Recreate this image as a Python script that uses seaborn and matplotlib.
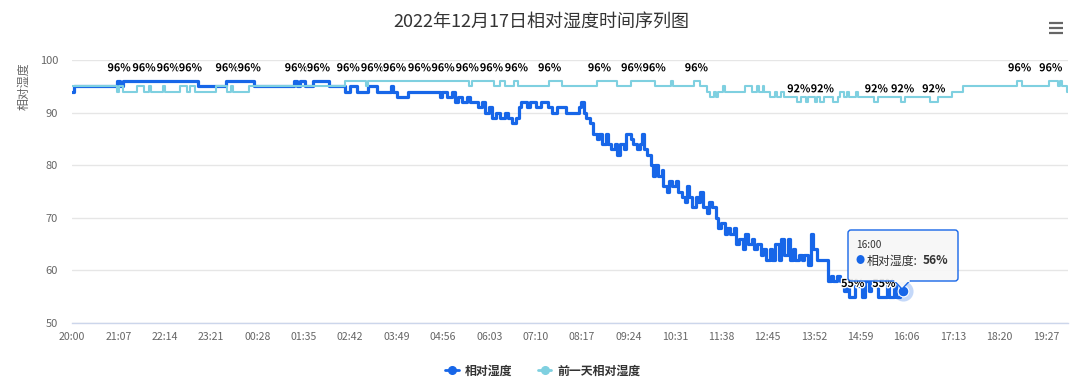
import numpy as np
import pandas as pd
import matplotlib
matplotlib.use("Agg")
import matplotlib.pyplot as plt
import seaborn as sns
from matplotlib.lines import Line2D
from matplotlib.patches import FancyBboxPatch, Polygon
from matplotlib.transforms import IdentityTransform
import matplotlib.patheffects as pe

# ---------------- data (minutes after 20:00, humidity %) ----------------
# change points of the step-like series
today_t = [0, 3, 65, 69, 74, 182, 223, 263, 321, 325, 330, 337, 348, 372, 395, 402, 412, 428, 441, 461,
           464, 470, 486, 532, 535, 542, 549, 554, 558, 564, 570, 575, 587, 593, 597, 603, 607, 613, 619, 625,
           630, 636, 642, 646, 649, 658, 662, 671, 678, 687, 694, 700, 713, 732, 736, 740, 743, 749, 753, 758,
           762, 766, 771, 775, 779, 784, 788, 792, 797, 801, 808, 811, 817, 821, 824, 827, 831, 836, 839, 843,
           847, 852, 854, 859, 862, 867, 872, 876, 881, 885, 889, 892, 896, 901, 905, 908, 912, 917, 921, 925,
           930, 934, 938, 943, 947, 951, 956, 960, 964, 969, 973, 977, 982, 986, 990, 995, 999, 1003, 1008, 1012,
           1016, 1021, 1025, 1029, 1034, 1037, 1041, 1045, 1050, 1054, 1058, 1063, 1067, 1071, 1076, 1092, 1096,
           1100, 1105, 1110, 1115, 1119, 1123, 1131, 1136, 1141, 1145, 1151, 1155, 1160, 1165, 1177, 1181, 1187,
           1191, 1196, 1200]
today_v = [94, 95, 96, 95, 96, 95, 96, 95, 96, 95, 96, 95, 96, 95, 94, 95, 94, 95, 94, 95,
           94, 93, 94, 93, 94, 93, 94, 92, 93, 92, 93, 92, 91, 92, 90, 91, 89, 90, 89, 90,
           89, 88, 89, 91, 92, 91, 92, 91, 92, 91, 90, 91, 90, 91, 92, 90, 89, 88, 86, 85,
           86, 84, 86, 84, 83, 84, 82, 84, 83, 86, 85, 84, 83, 84, 86, 83, 82, 80, 78, 80,
           78, 79, 76, 75, 77, 76, 77, 75, 74, 73, 76, 74, 72, 74, 73, 75, 72, 71, 73, 72,
           70, 68, 69, 67, 68, 67, 68, 65, 66, 64, 67, 65, 66, 64, 65, 63, 64, 62, 64, 62,
           65, 62, 66, 63, 66, 62, 64, 62, 63, 62, 63, 61, 67, 64, 62, 58, 59,
           58, 59, 58, 56, 58, 55, 58, 57, 55, 58, 56, 58, 57, 55, 57, 55, 57,
           55, 56, 56]

prev_t = [0, 65, 68, 74, 94, 104, 111, 114, 132, 134, 156, 166, 171, 178, 208, 224, 230, 233, 256, 395,
          425, 428, 574, 578, 610, 619, 626, 638, 645, 689, 708, 759, 788, 807, 843, 865, 869, 898, 908, 918,
          922, 927, 930, 934, 941, 944, 973, 983, 990, 993, 998, 1000, 1009, 1015, 1019, 1024, 1028, 1048, 1053, 1060,
          1064, 1074, 1077, 1081, 1086, 1100, 1107, 1110, 1115, 1119, 1122, 1132, 1136, 1158, 1164, 1197, 1203, 1240, 1251, 1272,
          1287, 1366, 1372, 1411, 1424, 1427, 1431, 1437, 1439]
prev_v = [95, 94, 95, 94, 95, 94, 95, 94, 95, 94, 95, 94, 95, 94, 95, 94, 95, 94, 95, 96,
          95, 96, 95, 96, 95, 96, 95, 96, 95, 96, 95, 96, 95, 96, 95, 96, 95, 96, 95, 94,
          93, 94, 93, 94, 95, 94, 95, 94, 95, 94, 95, 94, 93, 94, 93, 94, 93, 92, 93, 92,
          93, 92, 93, 92, 93, 92, 93, 94, 93, 94, 93, 94, 93, 92, 93, 92, 93, 92, 93, 94,
          95, 96, 95, 96, 95, 96, 95, 94, 94]

# times where the chart shows value labels
today_label_t = [68, 104, 139, 171, 224, 256, 324, 356, 1128, 1173]
prev_label_t = [399, 434, 466, 502, 536, 571, 606, 642, 690, 762, 810, 841, 902,
                1050, 1084, 1162, 1200, 1245, 1369, 1414]

tick_labels = ["20:00", "21:07", "22:14", "23:21", "00:28", "01:35", "02:42", "03:49", "04:56", "06:03",
               "07:10", "08:17", "09:24", "10:31", "11:38", "12:45", "13:52", "14:59", "16:06", "17:13",
               "18:20", "19:27"]
tick_step = 67
n_minutes = 1440

series_names = ["相对湿度", "前一天相对湿度"]
tooltip_time = "16:00"
hover_t = 1200

title = "2022年12月17日相对湿度时间序列图"
ylabel = "相对湿度"

# ---------------- style ----------------
BLUE = "#1766e8"
CYAN = "#7fd0e0"
W, H = 1080, 387

sns.set_theme(style="white")
plt.rcParams["font.family"] = ["Noto Sans CJK SC", "DejaVu Sans"]

fig = plt.figure(figsize=(W / 100, H / 100), dpi=100)
ax = fig.add_axes([72 / W, 1 - 323 / H, 996 / W, 263 / H])

df_today = pd.DataFrame({"t": today_t, "v": today_v})
df_prev = pd.DataFrame({"t": prev_t, "v": prev_v})

sns.lineplot(data=df_today, x="t", y="v", ax=ax, color=BLUE, lw=2.3,
             drawstyle="steps-post", estimator=None, sort=False, zorder=3)
sns.lineplot(data=df_prev, x="t", y="v", ax=ax, color=CYAN, lw=1.5,
             drawstyle="steps-post", estimator=None, sort=False, zorder=4)

ax.set_xlim(0, n_minutes - 1)
ax.set_ylim(50, 100)
ax.set_yticks(range(50, 101, 10))
ax.set_xticks([i * tick_step for i in range(len(tick_labels))])
ax.set_xticklabels(tick_labels)
ax.set_xlabel("")
ax.set_ylabel("")

ax.set_axisbelow(True)
ax.yaxis.grid(True, color="#e6e6e6", lw=1)
ax.xaxis.grid(False)
for s in ["left", "right", "top"]:
    ax.spines[s].set_visible(False)
ax.spines["bottom"].set_color("#ccd6eb")
ax.spines["bottom"].set_linewidth(1)
ax.tick_params(axis="x", direction="out", length=3.6, width=0.8, color="#ccd6eb",
               labelcolor="#666666", labelsize=7.6, pad=3)
ax.tick_params(axis="y", length=0, labelcolor="#666666", labelsize=8, pad=10)


def value_at(ts, vs, t):
    i = np.searchsorted(ts, t, side="right") - 1
    return vs[i]


outline = [pe.withStroke(linewidth=2, foreground="white")]
for ts, vs, lts in [(today_t, today_v, today_label_t), (prev_t, prev_v, prev_label_t)]:
    for lt in lts:
        v = value_at(ts, vs, lt)
        ax.annotate(f"{v}%", (lt, v), xytext=(0, 9.2), textcoords="offset points",
                    ha="center", va="center", fontsize=7.8, fontweight="bold",
                    color="#000000", path_effects=outline, zorder=6)

# hovered point
hv = value_at(today_t, today_v, hover_t)
ax.scatter([hover_t], [hv], s=210, color=BLUE, alpha=0.25, lw=0, zorder=7)
ax.scatter([hover_t], [hv], s=60, color=BLUE, edgecolor="white", lw=0.8, zorder=8)

# title & axis name
fig.text(541 / W, 1 - 22 / H, title, ha="center", va="center", fontsize=13, color="#333333")
fig.text(24 / W, 1 - 86 / H, ylabel, ha="center", va="center", rotation=90,
         fontsize=8.6, color="#666666")

# menu icon
T = IdentityTransform()
for yy in (23, 28, 33):
    fig.add_artist(Line2D([1049, 1063], [H - yy, H - yy], color="#666666", lw=1.6,
                          transform=T, solid_capstyle="butt"))

# tooltip
face = (0.97, 0.97, 0.97, 0.9)
box = FancyBboxPatch((848, H - 281), 110, 51, boxstyle="round,pad=0,rounding_size=3",
                     facecolor=face, edgecolor=BLUE, lw=1, transform=T, zorder=9)
fig.add_artist(box)
tri = Polygon([(894, H - 280.5), (902, H - 289), (910, H - 280.5)], closed=False,
              facecolor=face, edgecolor=BLUE, lw=1, transform=T, zorder=10)
fig.add_artist(tri)
fig.add_artist(Line2D([894.8, 909.2], [H - 281, H - 281], color=(0.97, 0.97, 0.97), lw=1.5,
                      transform=T, zorder=11))
fig.text(856, H - 245, tooltip_time, transform=T, fontsize=7.3, color="#333333",
         va="center", ha="left", zorder=12)
fig.text(856, H - 261, "●", transform=T, fontsize=6.5, color=BLUE, va="center", ha="left", zorder=12)
fig.text(867, H - 261, series_names[0] + ":", transform=T, fontsize=8.6, color="#333333",
         va="center", ha="left", zorder=12)
fig.text(923, H - 261, f"{hv}%", transform=T, fontsize=8.6, color="#333333", fontweight="bold",
         va="center", ha="left", zorder=12)

# legend
handles = [Line2D([], [], color=BLUE, lw=2, marker="o", ms=5.5),
           Line2D([], [], color=CYAN, lw=2, marker="o", ms=5.5)]
leg = ax.legend(handles, series_names, loc="center", bbox_to_anchor=(543 / W, 1 - 371 / H),
                bbox_transform=fig.transFigure, ncol=2, frameon=False, handlelength=1.1,
                handletextpad=0.5, columnspacing=2.2, prop={"size": 8.6, "weight": "bold"})
for t in leg.get_texts():
    t.set_color("#333333")

fig.savefig("out.png", dpi=100)
